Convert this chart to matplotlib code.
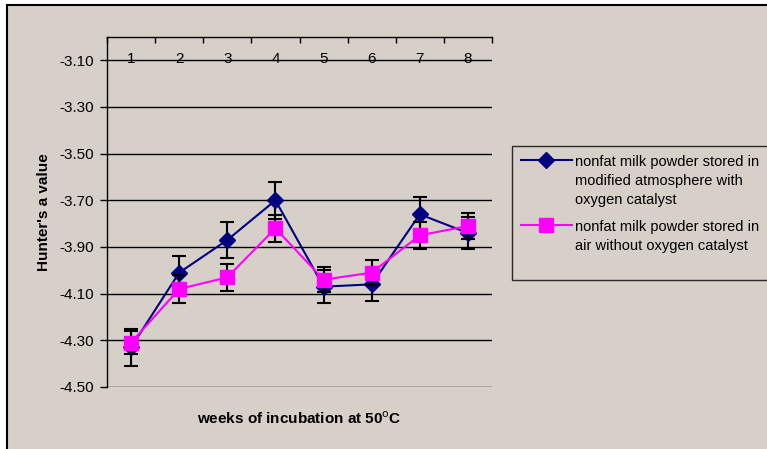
import numpy as np
import matplotlib
matplotlib.use("Agg")
import matplotlib.pyplot as plt
from matplotlib.patches import Rectangle

plt.rcParams['font.family'] = ['Liberation Sans', 'DejaVu Sans']

# weeks of incubation
weeks = [1, 2, 3, 4, 5, 6, 7, 8]
week_labels = ['1', '2', '3', '4', '5', '6', '7', '8']

# Hunter's a value, modified atmosphere with oxygen catalyst
modified = [-4.33, -4.01, -3.87, -3.70, -4.07, -4.06, -3.76, -3.84]
modified_err = [0.08, 0.072, 0.075, 0.078, 0.07, 0.07, 0.074, 0.07]

# Hunter's a value, air without oxygen catalyst
air = [-4.31, -4.08, -4.03, -3.82, -4.04, -4.01, -3.85, -3.81]
air_err = [0.05, 0.06, 0.057, 0.058, 0.055, 0.054, 0.057, 0.057]

yticks = [-4.50, -4.30, -4.10, -3.90, -3.70, -3.50, -3.30, -3.10]

bg = '#d6d0c9'

fig = plt.figure(figsize=(7.67, 4.49), dpi=100, facecolor='white')
# chart area with border
fig.patches.append(Rectangle((7/767, -0.05), 1.1, (449-5.5)/449 + 0.05,
                             transform=fig.transFigure, facecolor=bg,
                             edgecolor='black', linewidth=1.5, zorder=-10))

ax = fig.add_axes([107/767, (449-387)/449, 385/767, 350/449])
ax.set_facecolor(bg)

ax.errorbar(weeks, modified, yerr=modified_err, fmt='none', ecolor='black',
            elinewidth=1.5, capsize=5, capthick=1.5, zorder=2)
ax.plot(weeks, modified, color='#000080', marker='D', markersize=8,
        linewidth=1.5, zorder=3,
        label='nonfat milk powder stored in  \nmodified atmosphere with\noxygen catalyst')
ax.errorbar(weeks, air, yerr=air_err, fmt='none', ecolor='black',
            elinewidth=1.5, capsize=5, capthick=1.5, zorder=4)
ax.plot(weeks, air, color='#ff00ff', marker='s', markersize=10,
        linewidth=1.5, zorder=5,
        label='nonfat milk powder stored in\nair without oxygen catalyst\n')

ax.set_xlim(0.5, 8.5)
ax.set_ylim(-4.5, -3.0)

ax.set_yticks(yticks)
ax.set_yticklabels(['%.2f' % v for v in yticks], fontsize=11)
ax.yaxis.grid(True, color='black', linewidth=1)
ax.set_axisbelow(True)

ax.xaxis.tick_top()
ax.set_xticks(weeks)
ax.set_xticklabels(week_labels, fontsize=11)
ax.set_xticks(np.arange(0.5, 9.0, 1.0), minor=True)
ax.tick_params(axis='x', which='major', length=0, pad=-21)
ax.tick_params(axis='x', which='minor', length=4, direction='in', width=1)
ax.tick_params(axis='y', length=5, width=1, direction='out', pad=4.5)

ax.spines['right'].set_visible(False)
ax.spines['bottom'].set_visible(False)
ax.spines['top'].set_linewidth(1)
ax.spines['left'].set_linewidth(1)

ax.set_ylabel("Hunter's a value", fontsize=11, fontweight='bold', labelpad=6)
ax.text(0.5, -0.09, r'weeks of incubation at 50$^{\mathrm{o}}$C', transform=ax.transAxes,
        ha='center', va='center', fontsize=11, fontweight='bold')

leg = fig.legend(loc='upper left', bbox_to_anchor=(512/767, 1 - 146/449),
                 fontsize=10.5, frameon=True, fancybox=False, facecolor=bg,
                 edgecolor='black', handlelength=3.5, handletextpad=0.2,
                 borderpad=0.6, labelspacing=0.9, borderaxespad=0)
leg.get_frame().set_linewidth(1)
for t in leg.get_texts():
    t.set_linespacing(1.45)
# put each handle level with the first line of its label
for col in leg._legend_handle_box.get_children():
    for item in col.get_children():
        item.align = 'top'

fig.savefig('out.png', dpi=100, facecolor='white')
